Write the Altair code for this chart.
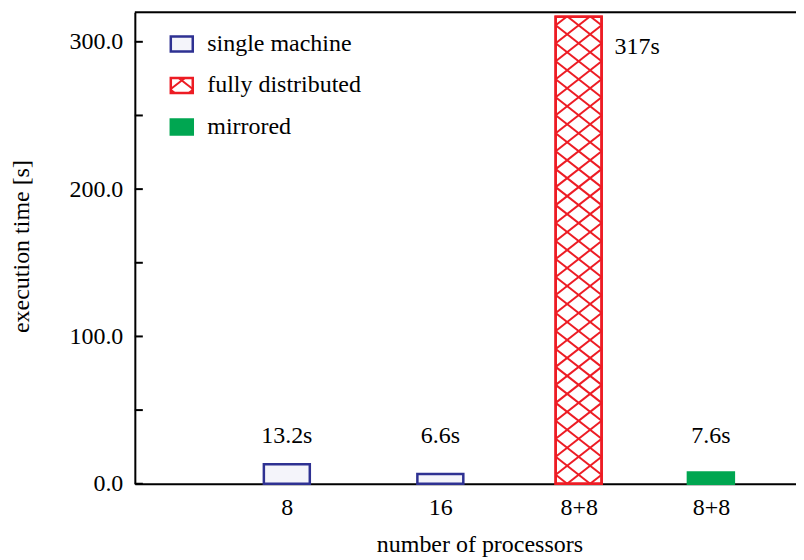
import altair as alt
import pandas as pd

# ---- data ----
categories = ["8", "16", "8+8", "8+8"]
series = ["single machine", "single machine", "fully distributed", "mirrored"]
times = [13.2, 6.6, 317.0, 7.6]
positions = [1.0, 2.01, 2.92, 3.79]
value_labels = ["13.2s", "6.6s", "317s", "7.6s"]
legend_labels = ["single machine", "fully distributed", "mirrored"]
y_ticks = [0, 100, 200, 300]
tick_marks = [0, 50, 100, 150, 200, 250, 300]

# ---- layout / style ----
W, H = 662, 472
XMAX, YMAX = 4.35, 320
xpu = W / XMAX
ypu = H / YMAX
HALF_PX = 23
HALF = HALF_PX / xpu
FONT = "'Liberation Serif', 'Times New Roman', Times, serif"
FS = 24
BLUE, BLUE_FILL = "#2e3192", "#f4f4fa"
RED, GREEN = "#ed1c24", "#00a651"
fills = {"single machine": BLUE_FILL, "fully distributed": "#ffffff", "mirrored": GREEN}
strokes = {"single machine": BLUE, "fully distributed": RED, "mirrored": GREEN}

xs = alt.Scale(domain=[0, XMAX], nice=False, zero=False)
ys = alt.Scale(domain=[0, YMAX], nice=False)


def hatch(x0, x1, y0, y1, w, h, xp, yp):
    """cross-hatch segments clipped to a rectangle (same units on both axes)."""
    s = h / w
    segs = []
    n = int((abs(y1 - y0) + s * abs(x1 - x0)) / h) + 4
    for fam in (1, -1):
        base = yp - fam * s * xp
        kmin = int((min(y0, y1) - s * max(abs(x0), abs(x1)) - base) / h) - n
        for k in range(kmin, kmin + 3 * n + 10):
            c = base + k * h
            lo_y, hi_y = min(y0, y1), max(y0, y1)
            if fam == 1:
                a, b = (lo_y - c) / s, (hi_y - c) / s
            else:
                a, b = (c - hi_y) / s, (c - lo_y) / s
            lo, hi = max(a, x0), min(b, x1)
            if hi - lo > 1e-6:
                segs.append((lo, c + fam * s * lo, hi, c + fam * s * hi))
    return segs


bars = pd.DataFrame({
    "cat": categories, "series": series, "t": times, "pos": positions,
    "label": value_labels,
})
bars["x0"] = bars["pos"] - HALF
bars["x1"] = bars["pos"] + HALF
bars["base"] = 0.0

label_expr = "".join(
    f"abs(datum.value - {p}) < 0.001 ? '{c}' : " for p, c in zip(positions, categories)
) + "''"

fill_scale = alt.Scale(domain=legend_labels, range=[fills[l] for l in legend_labels])
stroke_scale = alt.Scale(domain=legend_labels, range=[strokes[l] for l in legend_labels])

bar_layer = alt.Chart(bars).mark_rect(strokeWidth=2.5).encode(
    x=alt.X("x0:Q", scale=xs, axis=alt.Axis(
        values=positions, labelExpr=label_expr, ticks=False, grid=False,
        domainColor="black", domainWidth=2, labelFont=FONT, labelFontSize=FS,
        labelColor="black", labelPadding=12, labelFlush=False,
        title="number of processors", titleFont=FONT, titleFontSize=FS,
        titleFontWeight="normal", titleColor="black", titleX=345, titleY=68,
        titleAlign="center", titleBaseline="alphabetic")),
    x2="x1:Q",
    y=alt.Y("t:Q", scale=ys, axis=alt.Axis(
        values=y_ticks, format=".1f", ticks=False, grid=False,
        domainColor="black", domainWidth=2, labelFont=FONT, labelFontSize=FS,
        labelColor="black", labelPadding=12,
        title="execution time [s]", titleFont=FONT, titleFontSize=FS,
        titleFontWeight="normal", titleColor="black", titleAngle=270,
        titleX=-113, titleY=234, titleAlign="center", titleBaseline="middle")),
    y2="base:Q",
    fill=alt.Fill("series:N", scale=fill_scale, legend=None),
    stroke=alt.Stroke("series:N", scale=stroke_scale, legend=None),
)

# hatch on the fully distributed bar (built in pixels around the bar, then mapped to data units)
hrows = []
for _, r in bars[bars["series"] == "fully distributed"].iterrows():
    hpx = r["t"] * ypu
    for (xa, ya, xb, yb) in hatch(-HALF_PX, HALF_PX, 0, hpx, 23, 18, -11.5, 0):
        hrows.append({"hx": r["pos"] + xa / xpu, "hy": ya / ypu,
                      "hx2": r["pos"] + xb / xpu, "hy2": yb / ypu})
hatch_df = pd.DataFrame(hrows)
hatch_layer = alt.Chart(hatch_df).mark_rule(color=RED, strokeWidth=2).encode(
    x=alt.X("hx:Q", scale=xs), x2="hx2:Q",
    y=alt.Y("hy:Q", scale=ys), y2="hy2:Q",
)
red_outline = alt.Chart(bars[bars["series"] == "fully distributed"]).mark_rect(
    fill=None, fillOpacity=0, stroke=RED, strokeWidth=2.5).encode(
    x=alt.X("x0:Q", scale=xs), x2="x1:Q",
    y=alt.Y("t:Q", scale=ys), y2="base:Q",
)

# value labels
small = bars[bars["t"] < 100]
big = bars[bars["t"] >= 100]
small_lbl = alt.Chart(small).mark_text(
    font=FONT, fontSize=FS, color="black", align="center", baseline="middle").encode(
    x=alt.X("pos:Q", scale=xs), y=alt.value(424), text="label:N")
big_lbl = alt.Chart(big).mark_text(
    font=FONT, fontSize=FS, color="black", align="left", baseline="middle", dx=36).encode(
    x=alt.X("pos:Q", scale=xs), y=alt.value(35), text="label:N")

# inward ticks on the y axis and top frame line
ticks_df = pd.DataFrame({"v": tick_marks})
tick_layer = alt.Chart(ticks_df).mark_rule(color="black", strokeWidth=2).encode(
    y=alt.Y("v:Q", scale=ys), x=alt.value(0), x2=alt.value(8))
frame_top = alt.Chart(pd.DataFrame({"a": [0]})).mark_rule(color="black", strokeWidth=2).encode(
    x=alt.value(0), x2=alt.value(W), y=alt.value(0))

# manual legend
legend_layers = []
for i, lab in enumerate(legend_labels):
    yc = 31.7 + 41.5 * i
    one = pd.DataFrame({"label": [lab]})
    legend_layers.append(alt.Chart(one).mark_rect(
        fill=fills[lab], stroke=strokes[lab], strokeWidth=2.5).encode(
        x=alt.value(36), x2=alt.value(58), y=alt.value(yc - 7.5), y2=alt.value(yc + 7.5)))
    legend_layers.append(alt.Chart(one).mark_text(
        font=FONT, fontSize=FS, color="black", align="left", baseline="middle").encode(
        x=alt.value(72.5), y=alt.value(yc), text="label:N"))
    if lab == "fully distributed":
        lh = hatch(36, 58, yc - 7.5, yc + 7.5, 23, 18, 47, yc - 5)
        for (xa, ya, xb, yb) in lh:
            legend_layers.append(alt.Chart(one).mark_rule(color=RED, strokeWidth=2).encode(
                x=alt.value(xa), x2=alt.value(xb), y=alt.value(ya), y2=alt.value(yb)))

chart = alt.layer(
    bar_layer, hatch_layer, red_outline, small_lbl, big_lbl, tick_layer, frame_top,
    *legend_layers
).properties(
    width=W, height=H,
    autosize=alt.AutoSizeParams(type="none"),
    padding={"left": 127, "top": 4, "right": 0, "bottom": 76},
).configure_view(stroke=None).configure(background="white")

chart.save("out.html", embed_options={"renderer": "svg", "actions": False})
